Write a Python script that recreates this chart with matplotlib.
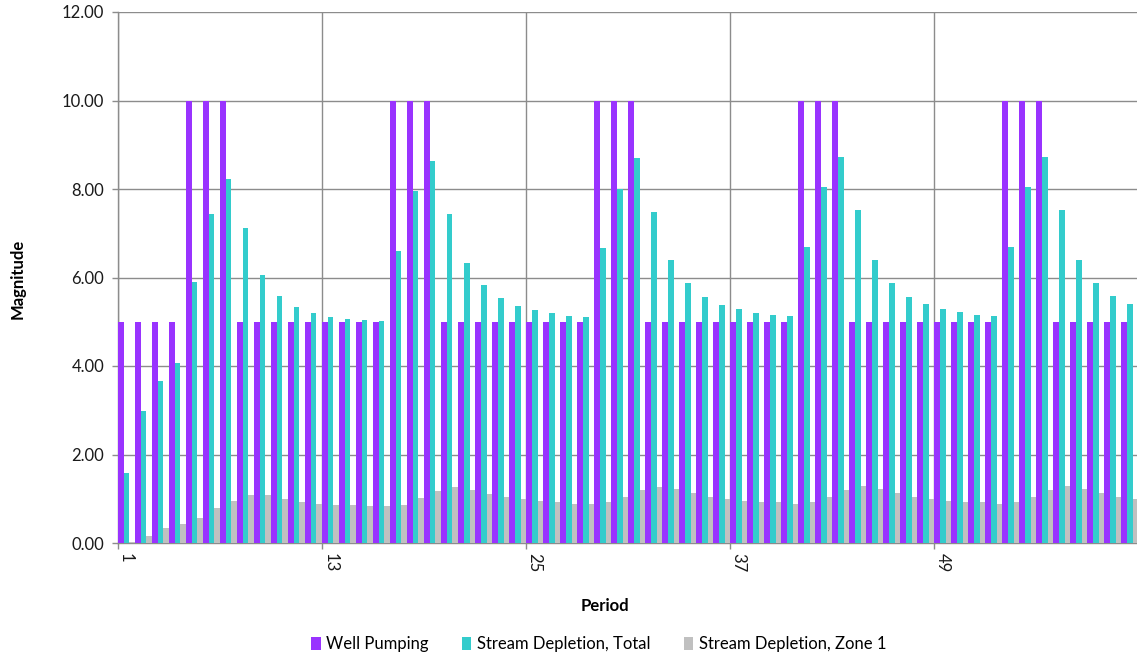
import numpy as np
import matplotlib
matplotlib.use("Agg")
import matplotlib.pyplot as plt
from matplotlib.patches import Patch

plt.rcParams['font.family'] = ['Lato', 'DejaVu Sans']

periods = list(range(1, 61))
tick_labels = ["1", "13", "25", "37", "49"]

well_pumping = [5, 5, 5, 5, 10, 10, 10, 5, 5, 5, 5, 5,
                5, 5, 5, 5, 10, 10, 10, 5, 5, 5, 5, 5,
                5, 5, 5, 5, 10, 10, 10, 5, 5, 5, 5, 5,
                5, 5, 5, 5, 10, 10, 10, 5, 5, 5, 5, 5,
                5, 5, 5, 5, 10, 10, 10, 5, 5, 5, 5, 5]

stream_total = [1.59, 2.98, 3.65, 4.06, 5.89, 7.43, 8.23, 7.12, 6.05, 5.59, 5.34, 5.19,
                5.10, 5.07, 5.05, 5.01, 6.60, 7.95, 8.64, 7.44, 6.33, 5.84, 5.53, 5.35,
                5.26, 5.20, 5.14, 5.10, 6.66, 8.00, 8.69, 7.49, 6.39, 5.87, 5.56, 5.37,
                5.29, 5.20, 5.16, 5.13, 6.69, 8.05, 8.72, 7.52, 6.39, 5.87, 5.56, 5.41,
                5.29, 5.23, 5.16, 5.13, 6.69, 8.05, 8.72, 7.52, 6.39, 5.87, 5.59, 5.41]

stream_zone1 = [0.02, 0.16, 0.35, 0.43, 0.56, 0.78, 0.95, 1.08, 1.08, 0.99, 0.93, 0.89,
                0.86, 0.85, 0.83, 0.84, 0.87, 1.02, 1.17, 1.26, 1.20, 1.11, 1.05, 0.99,
                0.96, 0.92, 0.89, 0.89, 0.92, 1.05, 1.20, 1.26, 1.23, 1.14, 1.05, 0.99,
                0.95, 0.92, 0.92, 0.89, 0.92, 1.05, 1.20, 1.29, 1.23, 1.14, 1.05, 0.99,
                0.95, 0.92, 0.92, 0.89, 0.92, 1.05, 1.20, 1.29, 1.23, 1.14, 1.05, 0.99]

series_names = ["Well Pumping", "Stream Depletion, Total", "Stream Depletion, Zone 1"]
colors = ["#9933FF", "#33CCCC", "#C0C0C0"]

W, H = 1137, 660
fig = plt.figure(figsize=(W / 100, H / 100), dpi=100)
left, right, top, bottom = 118, 1139, 12, 543
ax = fig.add_axes([left / W, 1 - bottom / H, (right - left) / W, (bottom - top) / H])

x = np.arange(len(periods))
bw = 1 / 3
for i, (vals, c) in enumerate(zip([well_pumping, stream_total, stream_zone1], colors)):
    ax.bar(x + i * bw, vals, width=bw, align='edge', color=c, linewidth=0, zorder=3)

ax.set_xlim(0, len(periods) + 0.03)
ax.set_ylim(0, 12)
ax.set_yticks(np.arange(0, 12.01, 2))
ax.set_yticklabels([f"{v:.2f}" for v in np.arange(0, 12.01, 2)])
tick_pos = [periods.index(int(t)) for t in tick_labels]
ax.set_xticks(tick_pos)
ax.set_xticklabels(tick_labels, rotation=-90, ha='left', va='top')

gridc = "#8C8C8C"
ax.grid(True, color=gridc, linewidth=1, zorder=0)
for s in ['top', 'right']:
    ax.spines[s].set_visible(False)
for s in ['left', 'bottom']:
    ax.spines[s].set_color(gridc)
    ax.spines[s].set_linewidth(1)
ax.tick_params(axis='both', colors=gridc, length=4, width=1, labelsize=12, labelcolor='#1a1a1a')
ax.tick_params(axis='y', pad=6)
ax.tick_params(axis='x', pad=3)

fig.text(18 / W, 1 - 279 / H, "Magnitude", rotation=90, ha='center', va='center',
         fontsize=12, fontweight='bold', color='#000000')
fig.text(605 / W, 1 - 606 / H, "Period", ha='center', va='center',
         fontsize=12, fontweight='bold', color='#000000')

handles = [Patch(facecolor=c, edgecolor='none') for c in colors]
fig.legend(handles, series_names, loc='center', bbox_to_anchor=(599 / W, 1 - 644 / H),
           ncol=3, frameon=False, fontsize=12, handlelength=0.55, handleheight=0.8,
           handletextpad=0.35, columnspacing=2.0)

fig.savefig("out.png", dpi=100)
